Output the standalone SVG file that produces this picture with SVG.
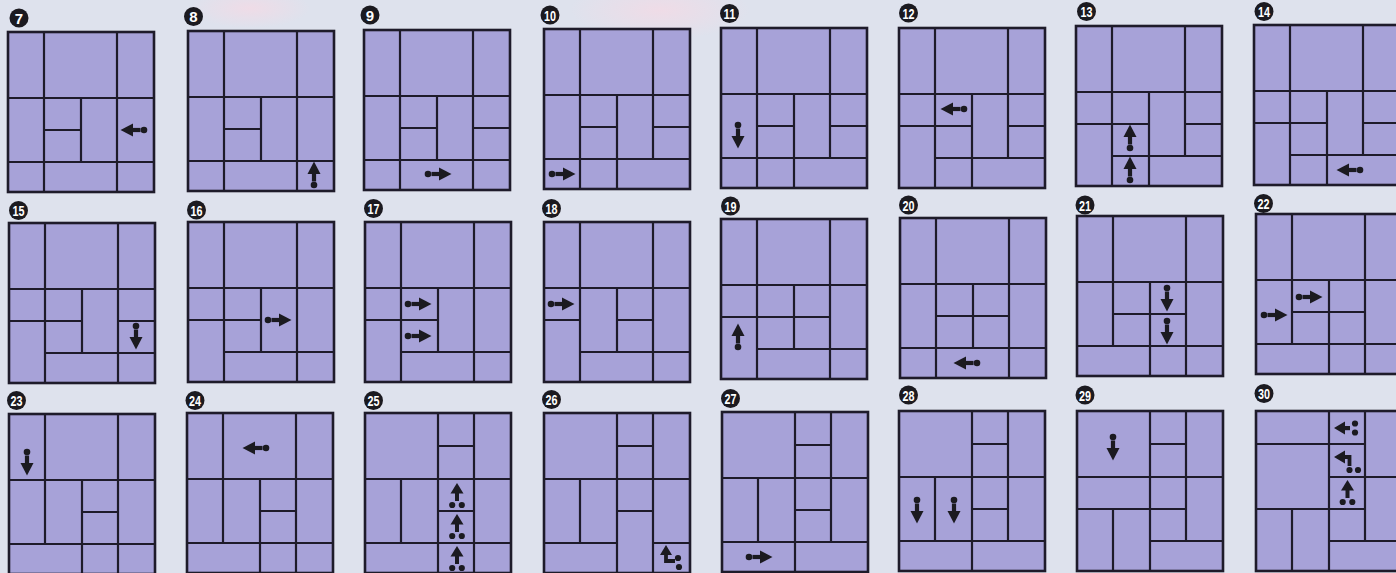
<svg xmlns="http://www.w3.org/2000/svg" xmlns:xlink="http://www.w3.org/1999/xlink" width="1396" height="573" viewBox="0 0 1396 573">
<style>
.bd{fill:#a7a2d8;stroke:#1e1b2a;stroke-width:2.6}
.ln{fill:none;stroke:#1e1b2a;stroke-width:2.2}
.bdg{fill:#1b1a20}
.num{fill:#ffffff;font-family:"Liberation Sans Narrow","Liberation Sans",sans-serif;font-weight:bold;font-size:15px;text-anchor:middle}
.mk{fill:#1b1a20}
.mks{fill:none;stroke:#1b1a20;stroke-width:3.8}
</style>
<defs>
<radialGradient id="pink" cx="0.5" cy="0.5" r="0.5">
<stop offset="0" stop-color="#f1dbe6" stop-opacity="0.9"/>
<stop offset="1" stop-color="#f1dbe6" stop-opacity="0"/>
</radialGradient>
<g id="ar">
<circle cx="0" cy="0" r="3.3"/>
<rect x="3.5" y="-2.1" width="9" height="4.2"/>
<polygon points="11,-6.5 23.5,0 11,6.5"/>
</g>
<g id="ar2">
<circle cx="-4.8" cy="0" r="3.1"/>
<circle cx="4.8" cy="0" r="3.1"/>
<rect x="-2" y="-13" width="4" height="9"/>
<polygon points="-6.5,-11.5 0,-22 6.5,-11.5"/>
</g>
</defs>
<rect width="1396" height="573" fill="#dee2ed"/>
<ellipse cx="660" cy="10" rx="90" ry="30" fill="url(#pink)"/>
<ellipse cx="250" cy="8" rx="60" ry="20" fill="url(#pink)"/>

<g id="board-7" transform="translate(8,32)">
<rect class="bd" width="146" height="160"/>
<path class="ln" d="M36 0V160M109 0V160M73 66V130M0 66H146M0 130H146M36 98H73"/>
<use href="#ar" class="mk" transform="translate(136,98) rotate(180)"/>
<circle class="bdg" cx="11" cy="-14" r="9.5"/><text class="num" x="11" y="-8.5">7</text>
</g>
<g id="board-8" transform="translate(188,31)">
<rect class="bd" width="146" height="160"/>
<path class="ln" d="M36 0V160M109 0V160M73 66V130M0 66H146M0 130H146M36 98H73"/>
<use href="#ar" class="mk" transform="translate(126,154) rotate(-90)"/>
<circle class="bdg" cx="5.5" cy="-14.5" r="9.5"/><text class="num" x="5.5" y="-9">8</text>
</g>
<g id="board-9" transform="translate(364,30)">
<rect class="bd" width="146" height="160"/>
<path class="ln" d="M36 0V160M109 0V160M73 66V130M0 66H146M0 130H146M36 98H73M109 98H146"/>
<use href="#ar" class="mk" transform="translate(64,144)"/>
<circle class="bdg" cx="6" cy="-15" r="9.5"/><text class="num" x="6" y="-9.5">9</text>
</g>
<g id="board-10" transform="translate(544,29)">
<rect class="bd" width="146" height="160"/>
<path class="ln" d="M36 0V160M109 0V130M73 66V160M0 66H146M0 130H146M36 98H73M109 98H146"/>
<use href="#ar" class="mk" transform="translate(8,145)"/>
<circle class="bdg" cx="6" cy="-14" r="9.5"/><text class="num" x="6" y="-8.5" textLength="12" lengthAdjust="spacingAndGlyphs">10</text>
</g>
<g id="board-11" transform="translate(721,28)">
<rect class="bd" width="146" height="160"/>
<path class="ln" d="M36 0V160M109 0V130M73 66V160M0 66H146M0 130H146M36 98H73M109 98H146"/>
<use href="#ar" class="mk" transform="translate(17,97) rotate(90)"/>
<circle class="bdg" cx="8.5" cy="-14.5" r="9.5"/><text class="num" x="8.5" y="-9" textLength="12" lengthAdjust="spacingAndGlyphs">11</text>
</g>
<g id="board-12" transform="translate(899,28)">
<rect class="bd" width="146" height="160"/>
<path class="ln" d="M36 0V160M109 0V130M73 66V160M0 66H146M0 98H73M109 98H146M36 130H146"/>
<use href="#ar" class="mk" transform="translate(65,81) rotate(180)"/>
<circle class="bdg" cx="9.5" cy="-15" r="9.5"/><text class="num" x="9.5" y="-9.5" textLength="12" lengthAdjust="spacingAndGlyphs">12</text>
</g>
<g id="board-13" transform="translate(1076,26)">
<rect class="bd" width="146" height="160"/>
<path class="ln" d="M36 0V160M109 0V130M73 66V160M0 66H146M0 98H73M109 98H146M36 130H146"/>
<use href="#ar" class="mk" transform="translate(54,122) rotate(-90)"/>
<use href="#ar" class="mk" transform="translate(54,154) rotate(-90)"/>
<circle class="bdg" cx="10.5" cy="-14.5" r="9.5"/><text class="num" x="10.5" y="-9" textLength="12" lengthAdjust="spacingAndGlyphs">13</text>
</g>
<g id="board-14" transform="translate(1254,25)">
<rect class="bd" width="146" height="160"/>
<path class="ln" d="M36 0V160M109 0V130M73 66V160M0 66H146M0 98H73M109 98H146M36 130H146"/>
<use href="#ar" class="mk" transform="translate(106,145) rotate(180)"/>
<circle class="bdg" cx="10" cy="-13.5" r="9.5"/><text class="num" x="10" y="-8" textLength="12" lengthAdjust="spacingAndGlyphs">14</text>
</g>

<g id="board-15" transform="translate(9,223)">
<rect class="bd" width="146" height="160"/>
<path class="ln" d="M36 0V160M109 0V160M73 66V130M0 66H146M0 98H73M109 98H146M36 130H146"/>
<use href="#ar" class="mk" transform="translate(127,103) rotate(90)"/>
<circle class="bdg" cx="9.5" cy="-12.5" r="9.5"/><text class="num" x="9.5" y="-7" textLength="12" lengthAdjust="spacingAndGlyphs">15</text>
</g>
<g id="board-16" transform="translate(188,222)">
<rect class="bd" width="146" height="160"/>
<path class="ln" d="M36 0V160M109 0V160M73 66V130M0 66H146M0 98H73M36 130H146"/>
<use href="#ar" class="mk" transform="translate(80,98)"/>
<circle class="bdg" cx="8.5" cy="-12" r="9.5"/><text class="num" x="8.5" y="-6.5" textLength="12" lengthAdjust="spacingAndGlyphs">16</text>
</g>
<g id="board-17" transform="translate(365,222)">
<rect class="bd" width="146" height="160"/>
<path class="ln" d="M36 0V160M109 0V160M73 66V130M0 66H146M0 98H73M36 130H146"/>
<use href="#ar" class="mk" transform="translate(43,82)"/>
<use href="#ar" class="mk" transform="translate(43,114)"/>
<circle class="bdg" cx="8.5" cy="-13.5" r="9.5"/><text class="num" x="8.5" y="-8" textLength="12" lengthAdjust="spacingAndGlyphs">17</text>
</g>
<g id="board-18" transform="translate(544,222)">
<rect class="bd" width="146" height="160"/>
<path class="ln" d="M36 0V160M109 0V160M73 66V130M0 66H146M0 98H36M73 98H109M36 130H146"/>
<use href="#ar" class="mk" transform="translate(7,82)"/>
<circle class="bdg" cx="7.5" cy="-13.5" r="9.5"/><text class="num" x="7.5" y="-8" textLength="12" lengthAdjust="spacingAndGlyphs">18</text>
</g>
<g id="board-19" transform="translate(721,219)">
<rect class="bd" width="146" height="160"/>
<path class="ln" d="M36 0V160M109 0V160M73 66V130M0 66H146M0 98H109M36 130H146"/>
<use href="#ar" class="mk" transform="translate(17,128) rotate(-90)"/>
<circle class="bdg" cx="9.5" cy="-13" r="9.5"/><text class="num" x="9.5" y="-7.5" textLength="12" lengthAdjust="spacingAndGlyphs">19</text>
</g>
<g id="board-20" transform="translate(900,218)">
<rect class="bd" width="146" height="160"/>
<path class="ln" d="M36 0V160M109 0V160M73 66V130M0 66H146M36 98H109M0 130H146"/>
<use href="#ar" class="mk" transform="translate(77,145) rotate(180)"/>
<circle class="bdg" cx="8.5" cy="-13" r="9.5"/><text class="num" x="8.5" y="-7.5" textLength="12" lengthAdjust="spacingAndGlyphs">20</text>
</g>
<g id="board-21" transform="translate(1077,216)">
<rect class="bd" width="146" height="160"/>
<path class="ln" d="M36 0V130M109 0V160M73 66V160M0 66H146M36 98H109M0 130H146"/>
<use href="#ar" class="mk" transform="translate(90,72) rotate(90)"/>
<use href="#ar" class="mk" transform="translate(90,105) rotate(90)"/>
<circle class="bdg" cx="8" cy="-11" r="9.5"/><text class="num" x="8" y="-5.5" textLength="12" lengthAdjust="spacingAndGlyphs">21</text>
</g>
<g id="board-22" transform="translate(1256,214)">
<rect class="bd" width="146" height="160"/>
<path class="ln" d="M36 0V130M109 0V160M73 66V160M0 66H146M36 98H109M0 130H146"/>
<use href="#ar" class="mk" transform="translate(8,101)"/>
<use href="#ar" class="mk" transform="translate(43,83)"/>
<circle class="bdg" cx="7.5" cy="-10.5" r="9.5"/><text class="num" x="7.5" y="-5" textLength="12" lengthAdjust="spacingAndGlyphs">22</text>
</g>

<g id="board-23" transform="translate(9,414)">
<rect class="bd" width="146" height="160"/>
<path class="ln" d="M36 0V130M109 0V160M73 66V160M0 66H146M73 98H109M0 130H146"/>
<use href="#ar" class="mk" transform="translate(18,38) rotate(90)"/>
<circle class="bdg" cx="7.5" cy="-13.5" r="9.5"/><text class="num" x="7.5" y="-8" textLength="12" lengthAdjust="spacingAndGlyphs">23</text>
</g>
<g id="board-24" transform="translate(187,413)">
<rect class="bd" width="146" height="160"/>
<path class="ln" d="M36 0V130M109 0V160M73 66V160M0 66H146M73 98H109M0 130H146"/>
<use href="#ar" class="mk" transform="translate(79,35) rotate(180)"/>
<circle class="bdg" cx="8" cy="-12.5" r="9.5"/><text class="num" x="8" y="-7" textLength="12" lengthAdjust="spacingAndGlyphs">24</text>
</g>
<g id="board-25" transform="translate(365,413)">
<rect class="bd" width="146" height="160"/>
<path class="ln" d="M73 0V160M109 0V160M36 66V130M73 33H109M0 66H146M73 98H109M0 130H146"/>
<use href="#ar2" class="mk" transform="translate(92,92)"/>
<use href="#ar2" class="mk" transform="translate(92,123)"/>
<use href="#ar2" class="mk" transform="translate(92,155)"/>
<circle class="bdg" cx="8.5" cy="-12.5" r="9.5"/><text class="num" x="8.5" y="-7" textLength="12" lengthAdjust="spacingAndGlyphs">25</text>
</g>
<g id="board-26" transform="translate(544,413)">
<rect class="bd" width="146" height="160"/>
<path class="ln" d="M73 0V160M109 0V160M36 66V130M73 33H109M0 66H146M73 98H109M0 130H73M109 130H146"/>
<g class="mk">
<polygon points="116,142 122,132 128,142"/>
<circle cx="134" cy="145" r="3.1"/>
<circle cx="135" cy="154" r="3.1"/>
</g>
<path class="mks" d="M122 141V148H131"/>
<circle class="bdg" cx="7.5" cy="-13.5" r="9.5"/><text class="num" x="7.5" y="-8" textLength="12" lengthAdjust="spacingAndGlyphs">26</text>
</g>
<g id="board-27" transform="translate(722,412)">
<rect class="bd" width="146" height="160"/>
<path class="ln" d="M73 0V160M109 0V130M36 66V130M73 33H109M0 66H146M73 98H109M0 130H146"/>
<use href="#ar" class="mk" transform="translate(27,145)"/>
<circle class="bdg" cx="8.5" cy="-13.5" r="9.5"/><text class="num" x="8.5" y="-8" textLength="12" lengthAdjust="spacingAndGlyphs">27</text>
</g>
<g id="board-28" transform="translate(899,411)">
<rect class="bd" width="146" height="160"/>
<path class="ln" d="M73 0V160M109 0V130M36 66V130M73 33H109M0 66H146M73 98H109M0 130H146"/>
<use href="#ar" class="mk" transform="translate(18,89) rotate(90)"/>
<use href="#ar" class="mk" transform="translate(55,89) rotate(90)"/>
<circle class="bdg" cx="9.5" cy="-16" r="9.5"/><text class="num" x="9.5" y="-10.5" textLength="12" lengthAdjust="spacingAndGlyphs">28</text>
</g>
<g id="board-29" transform="translate(1077,411)">
<rect class="bd" width="146" height="160"/>
<path class="ln" d="M73 0V160M109 0V130M36 98V160M73 33H109M0 66H146M0 98H109M73 130H146"/>
<use href="#ar" class="mk" transform="translate(36,26) rotate(90)"/>
<circle class="bdg" cx="8" cy="-16" r="9.5"/><text class="num" x="8" y="-10.5" textLength="12" lengthAdjust="spacingAndGlyphs">29</text>
</g>
<g id="board-30" transform="translate(1256,411)">
<rect class="bd" width="146" height="160"/>
<path class="ln" d="M73 0V160M109 0V130M36 98V160M0 33H109M73 66H146M0 98H109M73 130H146"/>
<g class="mk">
<polygon points="78,17 89,10.5 89,23.5"/>
<rect x="88" y="15" width="6" height="4.2"/>
<circle cx="99" cy="12.5" r="3.1"/>
<circle cx="99" cy="21.5" r="3.1"/>
<polygon points="78,46 89,39.5 89,52.5"/>
<circle cx="93.5" cy="59" r="3.1"/>
<circle cx="102" cy="59" r="3.1"/>
</g>
<path class="mks" d="M88 46H93.5V55"/>
<use href="#ar2" class="mk" transform="translate(91.5,91)"/>
<circle class="bdg" cx="8" cy="-17.5" r="9.5"/><text class="num" x="8" y="-12" textLength="12" lengthAdjust="spacingAndGlyphs">30</text>
</g>
</svg>
